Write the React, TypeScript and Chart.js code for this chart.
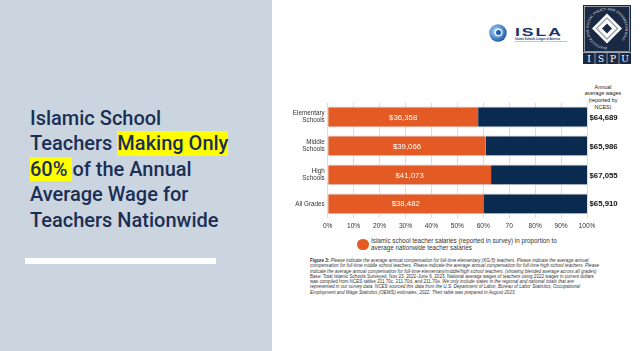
import React, { useEffect, useRef } from "react";
import { Chart, registerables } from "chart.js";

Chart.register(...registerables);

const categories: string[][] = [["Elementary", "Schools"], ["Middle", "Schools"], ["High", "Schools"], ["All Grades"]];
const islamicShare = [58, 61, 63, 60];
const nationalShare = [42, 39, 37, 40];
const islamicSalaries = ["$36,358", "$39,066", "$41,073", "$38,482"];
const ncesSalaries = ["$64,689", "$65,986", "$67,055", "$65,910"];
const xTickLabels = ["0%", "10%", "20%", "30%", "40%", "50%", "60%", "70", "80%", "90%", "100%"];

const ORANGE = "#e35a24";
const NAVY = "#0b2a4f";

const labelPlugin = {
  id: "barLabels",
  afterDatasetsDraw(chart: any) {
    const ctx = chart.ctx;
    const meta0 = chart.getDatasetMeta(0);
    const xScale = chart.scales.x;
    ctx.save();
    ctx.textBaseline = "middle";
    meta0.data.forEach((el: any, i: number) => {
      ctx.fillStyle = "#ffffff";
      ctx.font = "7.8px 'Liberation Sans', Arial, sans-serif";
      ctx.textAlign = "center";
      ctx.fillText(islamicSalaries[i], (el.base + el.x) / 2, el.y + 0.5);
      ctx.fillStyle = "#111111";
      ctx.font = "bold 7.8px 'Liberation Sans', Arial, sans-serif";
      ctx.textAlign = "left";
      ctx.fillText(ncesSalaries[i], xScale.getPixelForValue(100) + 2.5, el.y + 0.5);
    });
    ctx.restore();
  },
};

function BarChart() {
  const ref = useRef<HTMLCanvasElement | null>(null);
  useEffect(() => {
    if (!ref.current) return;
    const chart = new Chart(ref.current, {
      type: "bar",
      data: {
        labels: categories as any,
        datasets: [
          {
            label: "Islamic school teacher salaries",
            data: islamicShare,
            backgroundColor: ORANGE,
            borderColor: "#cfcfcf",
            borderWidth: { top: 1, bottom: 1, left: 0, right: 0 } as any,
            borderSkipped: false,
            categoryPercentage: 1,
            barPercentage: 0.72,
          },
          {
            label: "Average nationwide",
            data: nationalShare,
            backgroundColor: NAVY,
            borderColor: "#cfcfcf",
            borderWidth: { top: 1, bottom: 1, left: 0, right: 0 } as any,
            borderSkipped: false,
            categoryPercentage: 1,
            barPercentage: 0.72,
          },
        ],
      },
      options: {
        indexAxis: "y",
        animation: false,
        responsive: false,
        devicePixelRatio: 1,
        layout: { padding: { left: 0, right: 53, top: 7.5, bottom: 2.7 } },
        plugins: { legend: { display: false }, tooltip: { enabled: false } },
        scales: {
          x: {
            stacked: true,
            min: 0,
            max: 100,
            ticks: {
              stepSize: 10,
              padding: 4,
              color: "#333",
              font: { size: 6.6, family: "'Liberation Sans', Arial, sans-serif" },
              callback: (_v: any, i: number) => xTickLabels[i],
            },
            grid: { color: "#dcdcdc", drawTicks: false, lineWidth: 1 },
            border: { display: false },
            afterFit: (s: any) => {
              s.height = 14;
            },
          },
          y: {
            stacked: true,
            ticks: {
              padding: 3,
              color: "#333",
              font: { size: 6.3, family: "'Liberation Sans', Arial, sans-serif", lineHeight: 1.05 },
            },
            grid: { display: false, drawTicks: false },
            border: { display: false },
            afterFit: (s: any) => {
              s.width = 55.7;
            },
          },
        },
      } as any,
      plugins: [labelPlugin],
    });
    return () => chart.destroy();
  }, []);
  return (
    <canvas
      ref={ref}
      width={368}
      height={140}
      style={{ position: "absolute", left: 272, top: 95, width: 368, height: 140 }}
    />
  );
}

const hl: React.CSSProperties = { background: "#ffff00", display: "inline-block", lineHeight: "24.5px" };

function IspuLogo() {
  return (
    <svg width={48} height={59} viewBox="0 0 48 59" style={{ position: "absolute", left: 583, top: 5 }}>
      <rect x={0} y={0} width={48} height={59} fill="#1b2a44" />
      <rect x={1.5} y={1.5} width={45} height={45} fill="none" stroke="#ffffff" strokeWidth={0.5} />
      <defs>
        <path id="circ" d="M 24 42 A 18.5 18.5 0 1 1 24.01 42" />
      </defs>
      <text fontSize={3} fill="#ffffff" fontFamily="'DejaVu Serif', serif" letterSpacing={0.2}>
        <textPath href="#circ">INSTITUTE FOR SOCIAL POLICY AND UNDERSTANDING</textPath>
      </text>
      <polygon points="24,8.5 39,23.5 24,38.5 9,23.5" fill="#ffffff" />
      <polygon points="24,12 35.5,23.5 24,35 12.5,23.5" fill="#9aa3b0" />
      <polygon points="24,14 33.5,23.5 24,33 14.5,23.5" fill="#ffffff" />
      <polygon points="24,18.5 29,23.5 24,28.5 19,23.5" fill="#1b2a44" />
      <line x1={0} y1={47.5} x2={48} y2={47.5} stroke="#ffffff" strokeWidth={0.6} />
      <line x1={12} y1={48} x2={12} y2={59} stroke="#ffffff" strokeWidth={0.5} />
      <line x1={24} y1={48} x2={24} y2={59} stroke="#ffffff" strokeWidth={0.5} />
      <line x1={36} y1={48} x2={36} y2={59} stroke="#ffffff" strokeWidth={0.5} />
      {["I", "S", "P", "U"].map((c, i) => (
        <text key={c} x={6 + i * 12} y={57} fontSize={9} fill="#ffffff" textAnchor="middle" fontFamily="'DejaVu Serif', 'Liberation Serif', serif">
          {c}
        </text>
      ))}
    </svg>
  );
}

function IslaLogo() {
  return (
    <div style={{ position: "absolute", left: 489, top: 24, width: 80, height: 20 }}>
      <svg width={18} height={18} viewBox="0 0 18 18" style={{ position: "absolute", left: 0, top: 0 }}>
        <defs>
          <radialGradient id="g1" cx="0.4" cy="0.4" r="0.6">
            <stop offset="0" stopColor="#bfe0ff" />
            <stop offset="1" stopColor="#1d5fae" />
          </radialGradient>
        </defs>
        <circle cx={9} cy={9} r={8.7} fill="url(#g1)" />
        <circle cx={9.5} cy={8.5} r={4} fill="#ffffff" opacity={0.8} />
        <circle cx={9.5} cy={8.5} r={2.5} fill="#1d5fae" />
      </svg>
      <div
        style={{
          position: "absolute",
          left: 26,
          top: 2.5,
          font: "bold 11px 'Liberation Sans', Arial, sans-serif",
          letterSpacing: "1.2px",
          color: "#1a3668",
          lineHeight: "11px",
          transform: "scaleX(1.6)",
          transformOrigin: "0 0",
        }}
      >
        ISLA
      </div>
      <div style={{ position: "absolute", left: 26, top: 13.5, font: "bold 2.7px 'Liberation Sans', Arial, sans-serif", color: "#1a3668", whiteSpace: "nowrap", lineHeight: "3px" }}>
        Islamic Schools League of America
      </div>
      <div style={{ position: "absolute", left: 26, top: 16.3, font: "2px 'Liberation Sans', Arial, sans-serif", color: "#3a4e78", whiteSpace: "nowrap", lineHeight: "2.5px" }}>
        Supporting Islamic Schools Since 1995 | Islamic Schooling
      </div>
    </div>
  );
}

const footFont = "'Liberation Sans', Arial, sans-serif";

export default function App() {
  useEffect(() => {
    document.body.style.margin = "0";
  }, []);
  return (
    <div style={{ position: "fixed", left: 0, top: 0, width: 640, height: 351, overflow: "hidden", background: "#ffffff" }}>
      <div style={{ position: "absolute", left: 0, top: 0, width: 272, height: 351, background: "#cbd5df" }} />
      <div
        style={{
          position: "absolute",
          left: 30,
          top: 105.5,
          width: 240,
          font: "500 20px Roboto, sans-serif",
          lineHeight: "25.5px",
          color: "#1b2f55",
          whiteSpace: "nowrap",
        }}
      >
        Islamic School
        <br />
        Teachers <span style={hl}>Making Only</span>
        <br />
        <span style={hl}>60%&nbsp;</span>of the Annual
        <br />
        Average Wage for
        <br />
        Teachers Nationwide
      </div>
      <div style={{ position: "absolute", left: 25, top: 258, width: 191, height: 6, background: "#ffffff" }} />

      <IslaLogo />
      <IspuLogo />

      <div
        style={{
          position: "absolute",
          left: 578,
          top: 83.5,
          width: 50,
          textAlign: "center",
          font: "5.4px 'Liberation Sans', Arial, sans-serif",
          lineHeight: "6.7px",
          color: "#222",
        }}
      >
        Annual
        <br />
        average wages
        <br />
        (reported by
        <br />
        NCES)
      </div>

      <BarChart />

      <div style={{ position: "absolute", left: 357.3, top: 238.6, width: 11.4, height: 11.4, borderRadius: "50%", background: ORANGE }} />
      <div
        style={{
          position: "absolute",
          left: 371,
          top: 237,
          font: "6.3px 'Liberation Sans', Arial, sans-serif",
          lineHeight: "7.4px",
          color: "#333",
          whiteSpace: "nowrap",
        }}
      >
        Islamic school teacher salaries (reported in survey) in proportion to
        <br />
        average nationwide teacher salaries
      </div>

      <div
        style={{
          position: "absolute",
          left: 310,
          top: 258,
          font: `4.6px ${footFont}`,
          lineHeight: "5.3px",
          color: "#333",
          whiteSpace: "nowrap",
        }}
      >
        <div>
          <b>Figure 3:</b>{" "}
          <i>Please indicate the average annual compensation for full-time elementary (KG-5) teachers. Please indicate the average annual</i>
        </div>
        <div>
          <i>compensation for full-time middle school teachers. Please indicate the average annual compensation for full-time high school teachers. Please</i>
        </div>
        <div>
          <i>indicate the average annual compensation for full-time elementary/middle/high school teachers. (showing blended average across all grades)</i>
        </div>
        <div>Base: Total Islamic Schools Surveyed, Nov 23, 2022-June 6, 2023. National average wages of teachers using 2022 wages in current dollars</div>
        <div>
          was compiled from NCES tables 211.70c, 211.70d, and 211.70e. <i>We only include states in the regional and national totals that are</i>
        </div>
        <div>
          <i>represented in our survey data. NCES sourced this data from the U.S. Department of Labor, Bureau of Labor Statistics, Occupational</i>
        </div>
        <div>
          <i>Employment and Wage Statistics (OEWS) estimates, 2022. Their table was prepared in August 2023.</i>
        </div>
      </div>
    </div>
  );
}
